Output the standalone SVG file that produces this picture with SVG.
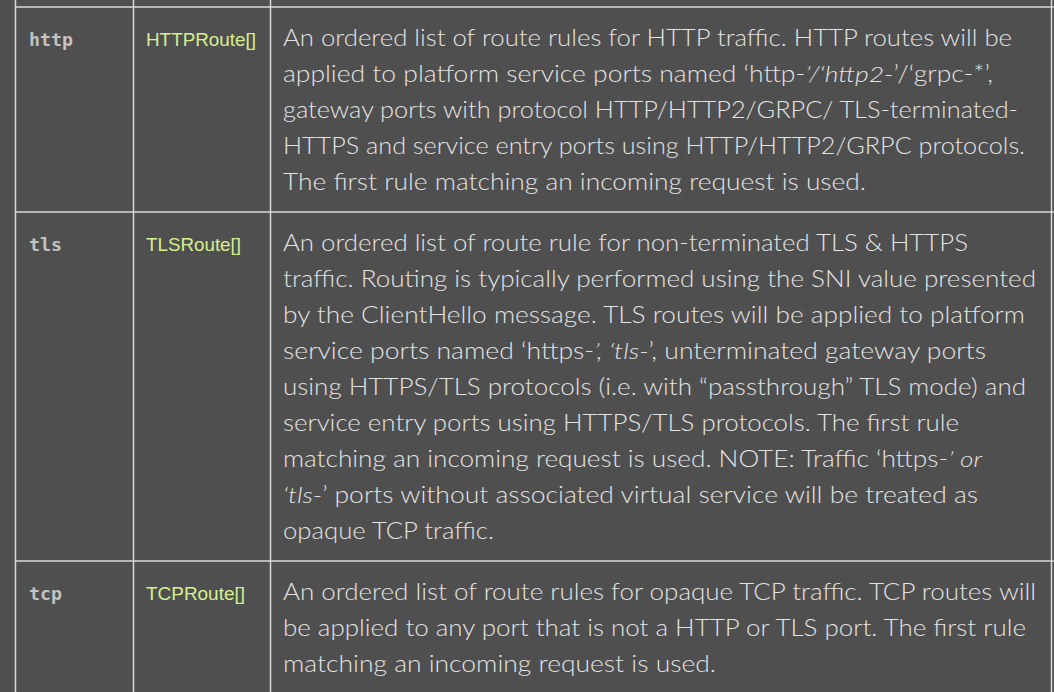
<svg xmlns="http://www.w3.org/2000/svg" width="1054" height="692" viewBox="0 0 1054 692">
<style>
.bg{fill:#4f4f4f}
.grid line{stroke:#d9d9d9;stroke-width:1.5}
.key{font-family:"DejaVu Sans Mono","Liberation Mono",monospace;font-weight:bold;font-size:18px;fill:#c2c2c2}
.type{font-family:"Liberation Sans",Arial,sans-serif;font-size:19px;fill:#d6ef8f}
.desc{font-family:Lato,"Open Sans","Liberation Sans",sans-serif;font-weight:300;font-size:22.5px;fill:#e3e3e3}
.it{font-style:italic}
</style>
<rect class="bg" x="0" y="0" width="1054" height="692"/>
<g id="grid" class="grid">
<line x1="15.5" y1="0" x2="15.5" y2="692"/>
<line x1="133.5" y1="0" x2="133.5" y2="692"/>
<line x1="270.5" y1="0" x2="270.5" y2="692"/>
<line x1="1051.5" y1="0" x2="1051.5" y2="692"/>
<line x1="15.5" y1="7" x2="1054" y2="7"/>
<line x1="15.5" y1="212" x2="1054" y2="212"/>
<line x1="15.5" y1="561" x2="1054" y2="561"/>
</g>
<g id="row-http">
<text class="key" x="29" y="46" textLength="44" lengthAdjust="spacingAndGlyphs">http</text>
<text class="type" x="146" y="46" textLength="110" lengthAdjust="spacingAndGlyphs">HTTPRoute[]</text>
<text class="desc" x="283" y="46" textLength="729" lengthAdjust="spacingAndGlyphs">An ordered list of route rules for HTTP traffic. HTTP routes will be</text>
<text class="desc" x="283" y="82" textLength="710" lengthAdjust="spacingAndGlyphs">applied to platform service ports named ‘http-<tspan class="it">’/‘http2-</tspan>’/‘grpc-*’,</text>
<text class="desc" x="283" y="118" textLength="735" lengthAdjust="spacingAndGlyphs">gateway ports with protocol HTTP/HTTP2/GRPC/ TLS-terminated-</text>
<text class="desc" x="283" y="154" textLength="742" lengthAdjust="spacingAndGlyphs">HTTPS and service entry ports using HTTP/HTTP2/GRPC protocols.</text>
<text class="desc" x="283" y="190" textLength="583" lengthAdjust="spacingAndGlyphs">The first rule matching an incoming request is used.</text>
</g>
<g id="row-tls">
<text class="key" x="29" y="251" textLength="33" lengthAdjust="spacingAndGlyphs">tls</text>
<text class="type" x="146" y="251" textLength="95" lengthAdjust="spacingAndGlyphs">TLSRoute[]</text>
<text class="desc" x="283" y="251" textLength="685" lengthAdjust="spacingAndGlyphs">An ordered list of route rule for non-terminated TLS &amp; HTTPS</text>
<text class="desc" x="283" y="287" textLength="753" lengthAdjust="spacingAndGlyphs">traffic. Routing is typically performed using the SNI value presented</text>
<text class="desc" x="283" y="323" textLength="742" lengthAdjust="spacingAndGlyphs">by the ClientHello message. TLS routes will be applied to platform</text>
<text class="desc" x="283" y="359" textLength="703" lengthAdjust="spacingAndGlyphs">service ports named ‘https-<tspan class="it">’, ‘tls-</tspan>’, unterminated gateway ports</text>
<text class="desc" x="283" y="395" textLength="743" lengthAdjust="spacingAndGlyphs">using HTTPS/TLS protocols (i.e. with “passthrough” TLS mode) and</text>
<text class="desc" x="283" y="431" textLength="676" lengthAdjust="spacingAndGlyphs">service entry ports using HTTPS/TLS protocols. The first rule</text>
<text class="desc" x="283" y="467" textLength="699" lengthAdjust="spacingAndGlyphs">matching an incoming request is used. NOTE: Traffic ‘https-<tspan class="it">’ or</tspan></text>
<text class="desc" x="283" y="503" textLength="695" lengthAdjust="spacingAndGlyphs"><tspan class="it">‘tls-</tspan>’ ports without associated virtual service will be treated as</text>
<text class="desc" x="283" y="539" textLength="211" lengthAdjust="spacingAndGlyphs">opaque TCP traffic.</text>
</g>
<g id="row-tcp">
<text class="key" x="29" y="600" textLength="33" lengthAdjust="spacingAndGlyphs">tcp</text>
<text class="type" x="146" y="600" textLength="99" lengthAdjust="spacingAndGlyphs">TCPRoute[]</text>
<text class="desc" x="283" y="600" textLength="753" lengthAdjust="spacingAndGlyphs">An ordered list of route rules for opaque TCP traffic. TCP routes will</text>
<text class="desc" x="283" y="636" textLength="743" lengthAdjust="spacingAndGlyphs">be applied to any port that is not a HTTP or TLS port. The first rule</text>
<text class="desc" x="283" y="672" textLength="433" lengthAdjust="spacingAndGlyphs">matching an incoming request is used.</text>
</g>
</svg>
